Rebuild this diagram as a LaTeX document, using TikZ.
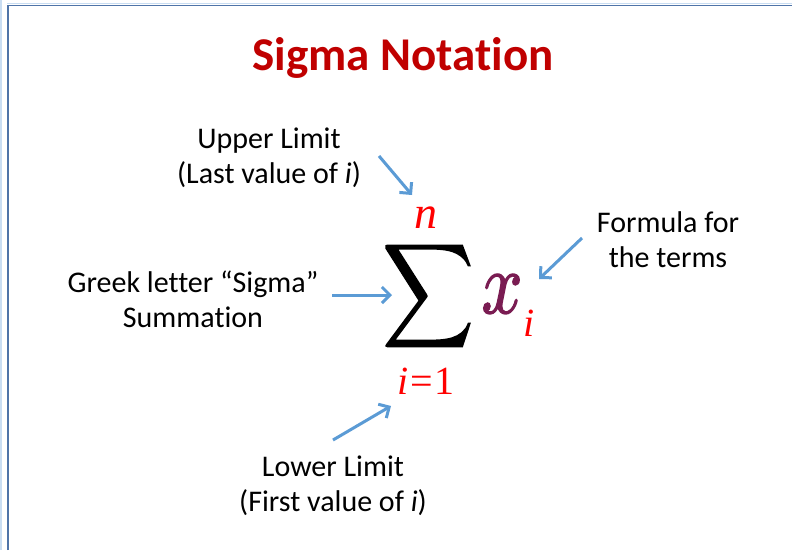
\documentclass[tikz,border=0pt]{standalone}
\usepackage{fontspec}
\usepackage{graphicx}
\setmainfont{Carlito}[Ligatures=NoCommon]
\newfontfamily\mathserif{Liberation Serif}
\usetikzlibrary{arrows.meta}
\definecolor{titlered}{HTML}{C00000}
\definecolor{arrowblue}{HTML}{5B9BD5}
\definecolor{framecol}{HTML}{4F74A8}
\definecolor{framelight}{HTML}{C9DDF2}
\definecolor{xpurple}{HTML}{7A1C52}
\definecolor{limred}{HTML}{FF0000}
\tikzset{
  lbl/.style={align=center, inner sep=0pt, font=\fontsize{30}{35}\selectfont, text=black},
  pointer/.style={draw=arrowblue, line width=3pt, -{Straight Barb[length=8pt,width=16pt,line width=3pt]}},
  mathred/.style={inner sep=0pt, text=limred},
}
\begin{document}
\begin{tikzpicture}[x=1pt,y=-1pt]
\useasboundingbox (0,0) rectangle (792,550);
\fill[white] (0,0) rectangle (792,550);
% frame
\draw[framelight, line width=1.5pt] (1,0) -- (1,550);
\draw[framelight, line width=1pt] (7,3) -- (792,3);
\draw[framecol, line width=1.5pt] (8,550) -- (8,5.5) -- (792,5.5);
% title
\node[inner sep=0pt, anchor=base, text=titlered, font=\fontsize{47}{50}\selectfont\bfseries] (title) at (403,70) {Sigma Notation};
% math
\node[inner sep=0pt] (sigma) at (428,296) {\resizebox{91pt}{76pt}{\special{pdf:literal direct 2 Tr 0.22 w}$\displaystyle\sum$\special{pdf:literal direct 0 Tr}}};
\node[mathred, font=\fontsize{46}{46}\selectfont\mathserif\itshape] (upper) at (426,218) {n};
\node[mathred, font=\fontsize{40}{40}\selectfont\mathserif] (lower) at (426,381) {\textit{i}\kern2pt=\kern1pt1};
\node[inner sep=0pt, text=xpurple] (xvar) at (502,294) {\resizebox{41pt}{38pt}{\special{pdf:literal direct 2 Tr 0.17 w}$x$\special{pdf:literal direct 0 Tr}}};
\node[mathred, font=\fontsize{40}{40}\selectfont\mathserif\itshape] (xsub) at (529,323) {i};
% labels
\node[lbl] (uplbl) at (269,158) {Upper Limit\\(Last value of \textit{i})};
\node[lbl] (greeklbl) at (193,299) {Greek letter “Sigma”\\Summation};
\node[lbl] (formlbl) at (668,240) {Formula for\\the terms};
\node[lbl] (lowlbl) at (333,486) {Lower Limit\\(First value of \textit{i})};
% arrow endpoints
\coordinate (a1s) at (379,156);
\coordinate (a1e) at (412,195);
\coordinate (a2s) at (332,295);
\coordinate (a2e) at (392,295);
\coordinate (a3s) at (582,238);
\coordinate (a3e) at (539,279);
\coordinate (a4s) at (333,440);
\coordinate (a4e) at (391,406);
\draw[pointer] (a1s) -- (a1e);
\draw[pointer] (a2s) -- (a2e);
\draw[pointer] (a3s) -- (a3e);
\draw[pointer] (a4s) -- (a4e);
\end{tikzpicture}
\end{document}
